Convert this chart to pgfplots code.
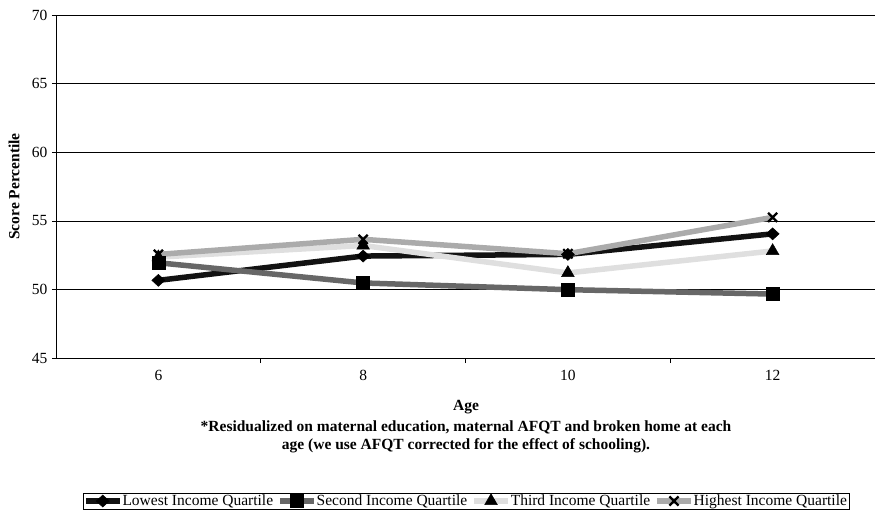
\documentclass[border=0pt]{standalone}
\usepackage{fontspec}
\setmainfont{Liberation Serif}
\usepackage{pgfplots}
\pgfplotsset{compat=1.18}
\definecolor{cLow}{HTML}{121212}
\definecolor{cSec}{HTML}{676767}
\definecolor{cThi}{HTML}{DFDFDF}
\definecolor{cHig}{HTML}{ABABAB}
\begin{document}
\begin{tikzpicture}
\path[use as bounding box] (0,0) rectangle (875pt,515pt);
\begin{axis}[
  at={(56pt,500pt)}, anchor=north west,
  scale only axis, width=819pt, height=343pt,
  xmin=5, xmax=13, ymin=45, ymax=70,
  xtick={6,8,10,12}, minor xtick={7,9,11},
  ytick={45,50,...,70},
  axis x line*=bottom, axis y line*=left,
  axis line style={black, line width=0.8pt},
  ymajorgrids, grid style={black, line width=0.5pt},
  tick align=outside, tick style={black, line width=0.6pt},
  major tick length=4pt, minor tick length=5pt,
  every major x tick/.append style={draw=none},
  font=\fontsize{15.5}{18}\selectfont,
  /pgf/number format/assume math mode=true,
  xticklabel style={yshift=-5pt},
  yticklabel style={xshift=-1pt},
  ylabel={\textbf{Score Percentile}},
  ylabel style={at={(axis description cs:-0.0513,0.5)}, anchor=center},
  legend columns=4,
  legend style={at={(axis description cs:0.5006,-0.417)}, anchor=center,
    draw=black, line width=0.5pt, inner sep=0pt,
    font=\fontsize{15.5}{16}\selectfont,
    /tikz/every even column/.append style={column sep=2pt},
    /tikz/every odd column/.append style={column sep=-2pt}},
  legend image code/.code={\draw[mark repeat=2,mark phase=2] plot coordinates {(0pt,0pt)(17pt,0pt)(34pt,0pt)};},
  every axis plot/.append style={line width=5.5pt},
]
\addplot[cLow, mark=diamond*, mark size=6pt, mark options={solid, fill=black, draw=black, line width=0.5pt, xscale=1.45}] coordinates {(6,50.66) (8,52.43) (10,52.55) (12,54.05)};
\addlegendentry{Lowest Income Quartile}
\addplot[cSec, mark=square*, mark size=6.5pt, mark options={solid, fill=black, draw=black, line width=0.5pt}] coordinates {(6,51.94) (8,50.47) (10,49.98) (12,49.66)};
\addlegendentry{Second Income Quartile}
\addplot[cThi, mark=triangle*, mark size=7.3pt, mark options={solid, fill=black, draw=black, line width=0.5pt}] coordinates {(6,52.35) (8,53.2) (10,51.2) (12,52.8)};
\addlegendentry{Third Income Quartile}
\addplot[cHig, mark=x, mark size=6.5pt, mark options={solid, draw=black, line width=2.2pt}] coordinates {(6,52.55) (8,53.65) (10,52.6) (12,55.25)};
\addlegendentry{Highest Income Quartile}
\end{axis}
\node[font=\fontsize{15.5}{18}\selectfont\bfseries] at (466pt,108pt) {Age};
\node[font=\fontsize{15.5}{18}\selectfont\bfseries] at (466pt,88pt) {*Residualized on maternal education, maternal AFQT and broken home at each};
\node[font=\fontsize{15.5}{18}\selectfont\bfseries] at (466pt,69pt) {age (we use AFQT corrected for the effect of schooling).};
\end{tikzpicture}
\end{document}
